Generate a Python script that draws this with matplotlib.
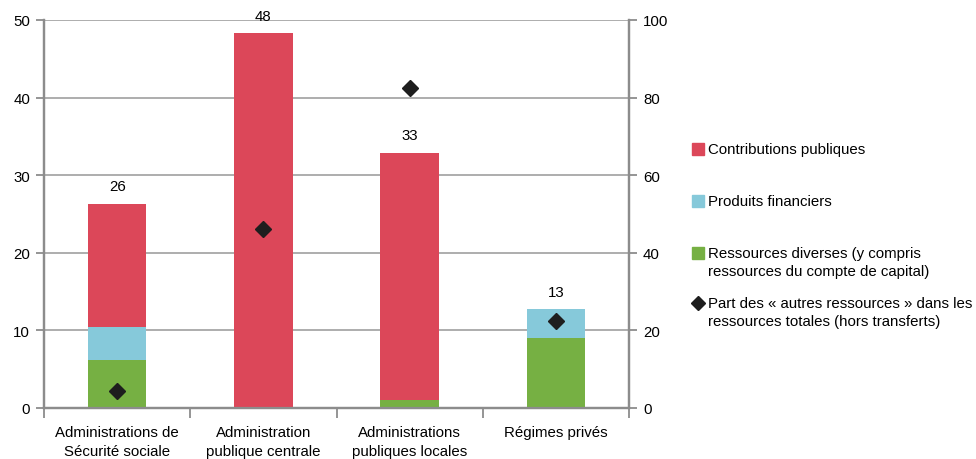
import matplotlib
matplotlib.use("Agg")
import matplotlib.pyplot as plt
from matplotlib.lines import Line2D
import numpy as np

plt.rcParams['font.family'] = ['Liberation Sans', 'DejaVu Sans']

categories = ["Administrations de\nSécurité sociale", "Administration\npublique centrale",
              "Administrations\npubliques locales", "Régimes privés"]
diverses = [6.2, 0.0, 1.0, 9.0]
financiers = [4.3, 0.0, 0.0, 3.7]
contributions = [15.8, 48.3, 31.9, 0.0]
part_autres = [4.5, 46.1, 82.5, 22.4]  # en %, axe de droite

series_labels = ["Contributions publiques", "Produits financiers",
                 "Ressources diverses (y compris\nressources du compte de capital)",
                 "Part des « autres ressources » dans les\nressources totales (hors transferts)"]

red = "#dc4759"
blue = "#86c9da"
green = "#76b043"
gray = "#8c8c8c"
fs = 10.8

fig = plt.figure(figsize=(9.76, 4.6), dpi=100)
ax = fig.add_axes([44/976, 1 - 409/460, (629-44)/976, (409-21)/460])
ax2 = ax.twinx()

x = np.arange(len(categories))
w = 0.4
b1 = np.array(diverses)
b2 = b1 + np.array(financiers)
tot = b2 + np.array(contributions)

ax.bar(x, diverses, w, color=green, zorder=3)
ax.bar(x, financiers, w, bottom=b1, color=blue, zorder=3)
ax.bar(x, contributions, w, bottom=b2, color=red, zorder=3)

for xi, t in zip(x, tot):
    ax.annotate(f"{t:.0f}", (xi, t), xytext=(0, 7.5), textcoords="offset points",
                ha="center", va="bottom", fontsize=fs)

ax2.plot(x, part_autres, linestyle="none", marker="D", markersize=8.5,
         color="#1e1e1e", zorder=5)

ax.set_xlim(-0.5, 3.5)
ax.set_ylim(0, 50)
ax2.set_ylim(0, 100)
ax.set_yticks(range(0, 51, 10))
ax2.set_yticks(range(0, 101, 20))
ax.yaxis.grid(True, color="#a0a0a0", linewidth=1.2, zorder=0)
ax.set_axisbelow(True)

ax.set_xticks(x)
ax.set_xticklabels(categories, fontsize=fs, linespacing=1.45)
ax.set_xticks(np.arange(-0.5, 4.0, 1.0), minor=True)
ax.tick_params(axis="x", which="major", length=0, pad=12)
ax.tick_params(axis="x", which="minor", length=7, width=1.3, color=gray, direction="out")
ax.tick_params(axis="y", length=6, width=1.3, color=gray, labelsize=fs, pad=4)
ax2.tick_params(axis="y", length=6, width=1.3, color=gray, labelsize=fs, pad=4)

for a in (ax, ax2):
    a.spines["top"].set_visible(False)
    for s in ("left", "right", "bottom"):
        a.spines[s].set_color(gray)
        a.spines[s].set_linewidth(1.6)

# legend drawn at the right of the plot
lx_marker = 698 / 976
lx_text = 708 / 976
rows_y = [150, 202, 254, 304]
handles = [("s", red), ("s", blue), ("s", green), ("D", "#1e1e1e")]
for (mk, col), lab, yy in zip(handles, series_labels, rows_y):
    yf = 1 - yy / 460
    fig.add_artist(Line2D([lx_marker], [yf], marker=mk, color=col, markersize=8 if mk == "s" else 7.5,
                          linestyle="none", transform=fig.transFigure))
    fig.text(lx_text, yf + 7/460, lab, fontsize=fs, va="top", ha="left", linespacing=1.4)

fig.savefig("out.png", dpi=100)
